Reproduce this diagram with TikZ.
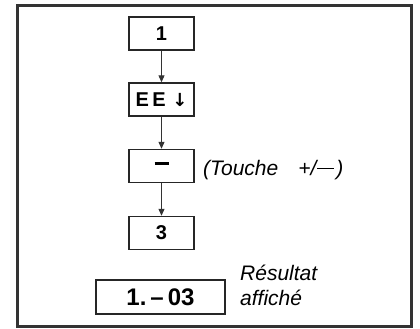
\documentclass[tikz,border=0pt]{standalone}
\usepackage{fontspec}
\setmainfont{Liberation Sans}
\newfontfamily\symfont{DejaVu Sans}
\usetikzlibrary{arrows.meta}
\begin{document}
\begin{tikzpicture}[x=1pt,y=-1pt,
  keybox/.style={draw=black!85,line width=1.4pt,minimum width=65pt,minimum height=33pt,inner sep=0pt,font=\fontsize{20}{20}\selectfont\bfseries},
  resbox/.style={draw=black!85,line width=2pt,minimum width=129pt,minimum height=34pt,inner sep=0pt,font=\fontsize{24}{24}\selectfont\bfseries},
  note/.style={font=\fontsize{21}{25}\selectfont\itshape,inner sep=0pt},
  conn/.style={draw=black!80,line width=1pt,-{Triangle[length=7pt,width=6pt]}}]
\useasboundingbox (0,0) rectangle (420,329);
\draw[line width=3pt,black!80] (17,6) rectangle (411,326);
\node[keybox] (k1) at (161.5,33.5) {1};
\node[keybox] (kee) at (161.5,99.5) {E\,E\,\,{\symfont\fontsize{18}{18}\selectfont ↓}};
\node[keybox] (kmin) at (161.5,166) {\rule[5pt]{14pt}{2.5pt}};
\node[keybox] (k3) at (161.5,233) {3};
\node[resbox] (res) at (160.5,297) {1.\,--\,03};
\node[note,anchor=base west] (touche) at (203,175) {(Touche\hspace{20pt}+/\kern1pt\rule[6pt]{17pt}{1.2pt}\kern2pt)};
\node[note,anchor=base west,align=left] (resultat) at (240,305) {Résultat\\affiché};
\draw[conn] (k1) -- (kee);
\draw[conn] (kee) -- (kmin);
\draw[conn] (kmin) -- (k3);
\end{tikzpicture}
\end{document}
